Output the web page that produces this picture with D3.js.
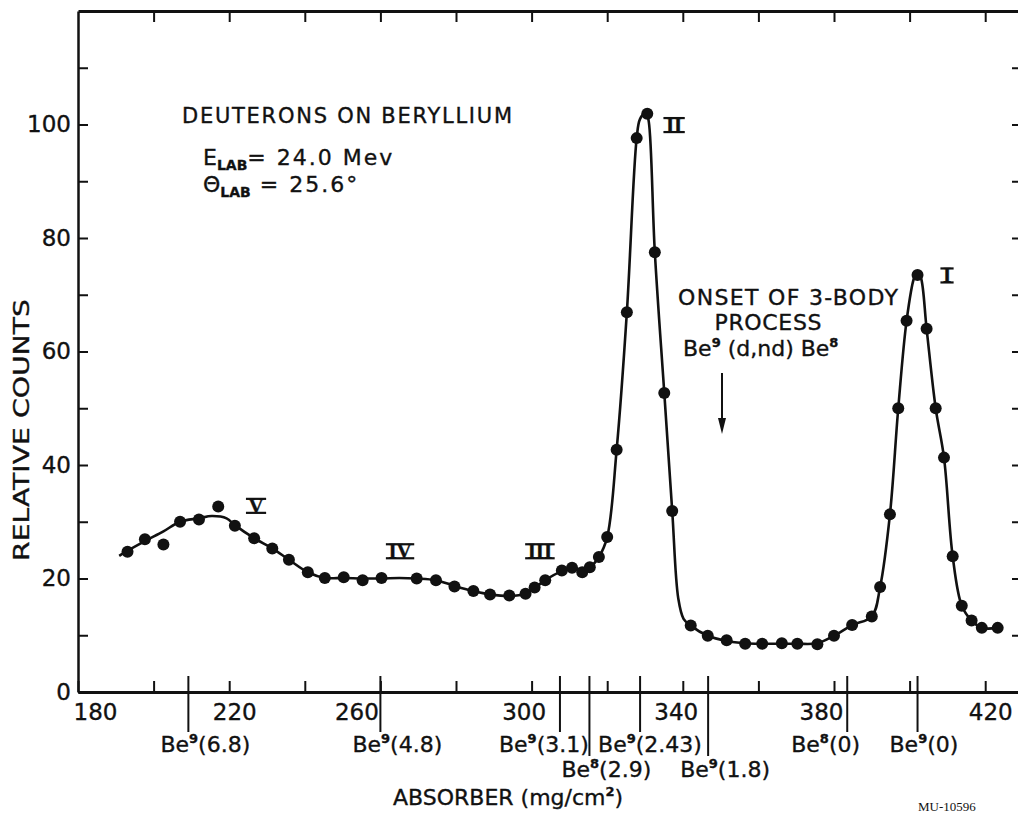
<!DOCTYPE html>
<html>
<head>
<meta charset="utf-8">
<script src="https://cdn.jsdelivr.net/npm/d3@7"></script>
<style>
  body { margin: 0; background: #fff; }
  svg { display: block; }
  text { font-family: "DejaVu Sans", "Liberation Sans", sans-serif; fill: #111; stroke: #111; stroke-width: 0.35; }
</style>
</head>
<body>
<div id="chart"></div>
<script>
// measured points (absorber in mg/cm2, relative counts)
var absorber = [193.1, 197.7, 202.6, 207.0, 212.0, 217.1, 221.5, 226.6, 231.4, 235.8,
                240.8, 245.3, 250.3, 255.3, 260.3, 269.6, 274.7, 279.6, 284.6, 289.0,
                294.1, 298.4, 300.8, 303.6, 308.0, 310.7, 313.4, 315.4, 317.8, 320.0,
                322.5, 325.2, 327.8, 330.6, 332.6, 335.1, 337.2, 342.1, 346.6, 351.6,
                356.5, 361.0, 366.2, 370.3, 375.6, 380.0, 384.8, 390.0, 392.2, 394.8,
                397.0, 399.2, 402.1, 404.5, 406.9, 409.1, 411.4, 413.8, 416.4, 419.1,
                423.3];
var counts = [24.7, 26.9, 26.0, 30.0, 30.4, 32.7, 29.3, 27.1, 25.3, 23.3,
              21.1, 20.1, 20.2, 19.7, 20.1, 20.0, 19.7, 18.6, 17.8, 17.2,
              17.0, 17.3, 18.4, 19.7, 21.4, 21.9, 21.1, 22.0, 23.8, 27.3,
              42.7, 66.9, 97.6, 101.9, 77.5, 52.7, 31.9, 11.7, 9.9, 9.1,
              8.5, 8.5, 8.6, 8.5, 8.4, 9.9, 11.8, 13.3, 18.5, 31.3,
              50.0, 65.4, 73.5, 64.0, 50.0, 41.3, 23.9, 15.2, 12.6, 11.3,
              11.3];

// hand-drawn smooth curve
var curveAbsorber = [190.9, 193.1, 197.7, 202.6, 207.0, 212.0, 215.4, 219.3, 221.5, 226.6,
                     231.4, 235.8, 240.8, 245.3, 250.3, 255.3, 260.3, 265.0, 269.6, 274.7,
                     279.6, 284.6, 289.0, 294.1, 298.4, 300.8, 303.6, 308.0, 310.7, 313.4,
                     315.4, 317.8, 320.0, 322.5, 325.2, 327.8, 328.7, 330.3, 331.0, 332.6,
                     335.1, 337.2, 338.8, 340.2, 342.1, 346.6, 351.6, 356.5, 361.0, 366.2,
                     370.3, 375.6, 380.0, 384.8, 390.0, 392.2, 394.8, 397.0, 399.2, 401.2,
                     402.1, 403.0, 404.5, 406.9, 409.1, 411.4, 413.8, 416.4, 419.1, 423.3];
var curveCounts = [24.0, 24.9, 26.6, 28.3, 30.0, 30.6, 31.0, 30.6, 29.4, 27.1,
                   25.3, 23.3, 21.1, 20.1, 20.1, 20.0, 20.0, 20.1, 20.0, 19.7,
                   18.7, 17.8, 17.2, 16.9, 17.3, 18.3, 19.7, 21.3, 21.8, 21.6,
                   22.0, 23.8, 27.3, 42.7, 66.9, 97.6, 101.0, 102.2, 100.5, 77.5,
                   52.7, 31.9, 16.5, 12.9, 11.7, 9.9, 9.0, 8.6, 8.5, 8.5,
                   8.5, 8.6, 9.9, 11.8, 13.3, 18.5, 31.3, 50.0, 65.4, 73.0,
                   74.0, 73.0, 64.0, 50.0, 41.3, 23.9, 15.2, 12.6, 11.3, 11.3];

var xTicks = [200, 220, 240, 260, 280, 300, 320, 340, 360, 380, 400, 420];
var xLabels = [180, 220, 260, 300, 340, 380, 420];
var yTicks = [0, 10, 20, 30, 40, 50, 60, 70, 80, 90, 100, 110];
var yLabels = [0, 20, 40, 60, 80, 100];

// excited levels marked under the axis
var levelNucleus = ['Be', 'Be', 'Be', 'Be', 'Be', 'Be', 'Be', 'Be'];
var levelMass = ['9', '9', '9', '8', '9', '9', '8', '9'];
var levelEnergy = ['6.8', '4.8', '3.1', '2.9', '2.43', '1.8', '0', '0'];
var levelAbsorber = [209.2, 260.0, 307.5, 315.3, 328.7, 346.7, 383.5, 402.1];

// roman-numeral group labels
var groupNames = ['I', 'II', 'III', 'IV', 'V'];
var groupAbsorber = [409.9, 337.7, 302.2, 265.2, 227.1];
var groupCounts = [73.4, 99.9, 24.8, 24.8, 32.8];

var width = 1018, height = 814;
var ink = '#111';

var svg = d3.select('#chart').append('svg')
            .attr('width', width)
            .attr('height', height);

var x = d3.scaleLinear().domain([180, 430]).range([78, 1023]);
var y = d3.scaleLinear().domain([0, 120]).range([692, 11]);

var styleAxis = function styleAxis(g, w) {
    g.select('.domain').attr('stroke', ink).attr('stroke-width', w);
    g.selectAll('.tick line').attr('stroke', ink).attr('stroke-width', 2);
    g.selectAll('.tick text').attr('font-size', 23).attr('fill', ink)
     .attr('font-family', '"DejaVu Sans", sans-serif');
};

// frame: four axes with inward ticks
var xLabelShift = [17, 5, -24, -8, -7, -13, 5];
var gx = svg.append('g')
    .attr('transform', 'translate(0,' + y(0) + ')')
    .call(d3.axisBottom(x).tickValues([180].concat(xTicks))
            .tickSizeInner(-11).tickSizeOuter(0).tickPadding(12)
            .tickFormat(function(d) { return xLabels.indexOf(d) >= 0 ? d : ''; }))
    .call(styleAxis, 3);
gx.selectAll('.tick text').attr('dx', function(d) {
    var i = xLabels.indexOf(d);
    return i >= 0 ? xLabelShift[i] : 0;
});

svg.append('g')
    .attr('transform', 'translate(0,' + y(120) + ')')
    .call(d3.axisTop(x).tickValues(xTicks).tickSizeInner(-11).tickSizeOuter(0).tickFormat(''))
    .call(styleAxis, 3);

svg.append('g')
    .attr('transform', 'translate(' + x(180) + ',0)')
    .call(d3.axisLeft(y).tickValues(yTicks).tickSizeInner(-10).tickSizeOuter(0).tickPadding(7)
            .tickFormat(function(d) { return yLabels.indexOf(d) >= 0 ? d : ''; }))
    .call(styleAxis, 2.5);

svg.append('g')
    .attr('transform', 'translate(' + x(430) + ',0)')
    .call(d3.axisRight(y).tickValues(yTicks.slice(1)).tickSizeInner(-11).tickSizeOuter(0).tickFormat(''))
    .call(styleAxis, 2.5);

// axis titles
svg.append('text')
   .attr('transform', 'translate(29,430) rotate(-90)')
   .attr('text-anchor', 'middle')
   .attr('font-size', 22)
   .attr('textLength', 262).attr('lengthAdjust', 'spacingAndGlyphs')
   .text('RELATIVE COUNTS');

var xt = svg.append('text').attr('x', 393).attr('y', 805).attr('font-size', 22);
xt.append('tspan').text('ABSORBER (mg/cm');
xt.append('tspan').attr('dy', -9).attr('font-size', 13).attr('font-weight', 'bold').text('2');
xt.append('tspan').attr('dy', 9).text(')');

svg.append('text')
   .attr('x', 918).attr('y', 811)
   .attr('font-size', 13)
   .style('font-family', '"Liberation Serif", serif')
   .style('stroke-width', 0)
   .text('MU-10596');

// level markers under the axis
var levelRow = [1, 1, 1, 2, 1, 2, 1, 1];
var levelDx = [-28, -28, -61, -28, -42, -28, -56, -28];
var rowBaseline = {1: 752, 2: 777};
var rowLineEnd = {1: 732, 2: 756};

var levels = svg.append('g');
levelAbsorber.forEach(function(v, i) {
    var px = x(v);
    levels.append('line')
          .attr('x1', px).attr('x2', px)
          .attr('y1', y(0) - 16).attr('y2', rowLineEnd[levelRow[i]])
          .attr('stroke', ink).attr('stroke-width', 2);
    var t = levels.append('text')
          .attr('x', px + levelDx[i]).attr('y', rowBaseline[levelRow[i]])
          .attr('font-size', 22);
    t.append('tspan').text(levelNucleus[i]);
    t.append('tspan').attr('dy', -9).attr('font-size', 13).attr('font-weight', 'bold').text(levelMass[i]);
    t.append('tspan').attr('dy', 9).text('(' + levelEnergy[i] + ')');
});

// smooth curve and points
var line = d3.line()
    .x(function(d, i) { return x(curveAbsorber[i]); })
    .y(function(d, i) { return y(curveCounts[i]); })
    .curve(d3.curveCatmullRom.alpha(0.5));

svg.append('path')
   .datum(curveAbsorber)
   .attr('d', line)
   .attr('fill', 'none')
   .attr('stroke', ink)
   .attr('stroke-width', 2.6);

svg.append('g').selectAll('circle')
   .data(absorber)
   .enter().append('circle')
     .attr('cx', function(d) { return x(d); })
     .attr('cy', function(d, i) { return y(counts[i]); })
     .attr('r', 6)
     .attr('fill', ink);

// roman numerals with bars
var groups = svg.append('g');
groupNames.forEach(function(name, i) {
    var cx = x(groupAbsorber[i]), cy = y(groupCounts[i]);
    var t = groups.append('text')
        .attr('x', cx).attr('y', cy + 7)
        .attr('text-anchor', 'middle')
        .attr('font-size', 21)
        .style('font-family', '"Liberation Serif", serif')
        .style('font-weight', 'bold')
        .text(name);
    var w = t.node().getComputedTextLength() + 5;
    [cy - 7, cy + 7].forEach(function(by) {
        groups.append('line')
              .attr('x1', cx - w / 2).attr('x2', cx + w / 2)
              .attr('y1', by).attr('y2', by)
              .attr('stroke', ink).attr('stroke-width', 2.2);
    });
});

// text annotations
svg.append('text')
   .attr('x', 182).attr('y', 123)
   .attr('font-size', 21)
   .attr('textLength', 330).attr('lengthAdjust', 'spacing')
   .text('DEUTERONS ON BERYLLIUM');

var e = svg.append('text').attr('x', 203).attr('y', 165).attr('font-size', 22);
e.append('tspan').text('E');
e.append('tspan').attr('dy', 5).attr('font-size', 14).attr('font-weight', 'bold').text('LAB');
e.append('tspan').attr('dy', -5).attr('letter-spacing', 2).text('= 24.0 Mev');

var th = svg.append('text').attr('x', 203).attr('y', 192).attr('font-size', 22);
th.append('tspan').text('\u0398');
th.append('tspan').attr('dy', 5).attr('font-size', 14).attr('font-weight', 'bold').text('LAB');
th.append('tspan').attr('dy', -5).attr('letter-spacing', 2).text(' = 25.6\u00B0');

svg.append('text')
   .attr('x', 788).attr('y', 305).attr('text-anchor', 'middle')
   .attr('font-size', 22)
   .attr('textLength', 220).attr('lengthAdjust', 'spacing')
   .text('ONSET OF 3-BODY');
svg.append('text')
   .attr('x', 768).attr('y', 330).attr('text-anchor', 'middle')
   .attr('font-size', 22)
   .attr('textLength', 107).attr('lengthAdjust', 'spacing')
   .text('PROCESS');
var r = svg.append('text').attr('x', 683).attr('y', 356).attr('font-size', 22);
r.append('tspan').text('Be');
r.append('tspan').attr('dy', -9).attr('font-size', 13).attr('font-weight', 'bold').text('9');
r.append('tspan').attr('dy', 9).text(' (d,nd) Be');
r.append('tspan').attr('dy', -9).attr('font-size', 13).attr('font-weight', 'bold').text('8');

// arrow marking onset of the 3-body process
var ax = 722;
svg.append('line')
   .attr('x1', ax).attr('x2', ax).attr('y1', 373).attr('y2', 425)
   .attr('stroke', ink).attr('stroke-width', 2);
svg.append('path')
   .attr('d', 'M' + (ax - 4) + ',418 L' + ax + ',434 L' + (ax + 4) + ',418 Z')
   .attr('fill', ink);
</script>
</body>
</html>
